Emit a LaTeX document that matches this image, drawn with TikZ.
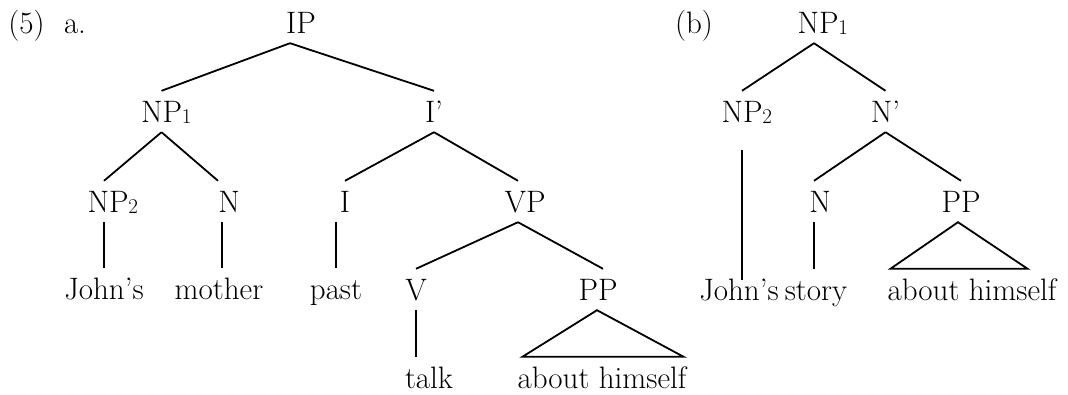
\documentclass[tikz,border=0pt]{standalone}
\usepackage{fontspec}
\usepackage{tikz}

% small subscript that does not count for centring
\newcommand{\catsub}[1]{\rlap{\raisebox{-1.5pt}{\fontsize{21}{25}\selectfont #1}}}

\tikzset{
  cat/.style={anchor=base, text height=21pt, text depth=0pt, inner ysep=10pt, inner xsep=0pt,
    font=\fontsize{31}{37}\selectfont},
  branch/.style={line width=1.8pt}
}

\begin{document}
\begin{tikzpicture}[x=1pt, y=-1pt]
    \useasboundingbox (0,0) rectangle (1068,394);

    % Example numbers
    \node[cat] (num) at (26.5,33) {(5)};
    \node[cat] (parta) at (75,33) {a.};
    \node[cat] (partb) at (694,33) {(b)};

    % Tree (a)
    \foreach \n/\x/\y/\t in {ip/301/33/IP, np1/161.5/122/NP\catsub{1}, ibar/434/122/I',
      np2/108/212/NP\catsub{2}, n/229/212/N, i/345/212/I, vp/525/212/VP,
      johns/104/299/John's, mother/219/299/mother, past/336/299/past, v/416/300/V, pp/598/300/PP,
      talk/429/388/talk, about/602/388/about himself} {
      \node[cat] (\n) at (\x,\y) {\t};
    }

    % Tree (b)
    \foreach \n/\x/\y/\t in {np1b/818/33/NP\catsub{1}, np2b/742/122/NP\catsub{2}, nbarb/885.5/122/N',
      nb/820/212/N, ppb/961/212/PP,
      johnsb/739/300/John's, story/816/300/story, aboutb/972/300/about himself} {
      \node[cat] (\n) at (\x,\y) {\t};
    }

    % Branches of tree (a)
    \draw[branch] ([xshift=-11pt]ip.south) -- (np1.north);
    \draw[branch] ([xshift=-11pt]ip.south) -- (ibar.north);
    \draw[branch] (np1.south) -- ([xshift=-4pt]np2.north);
    \draw[branch] (np1.south) -- ([xshift=-11pt]n.north);
    \draw[branch] (ibar.south) -- (i.north);
    \draw[branch] (ibar.south) -- ([xshift=-7pt]vp.north);
    \draw[branch] ([xshift=-7pt]vp.south) -- (v.north);
    \draw[branch] ([xshift=-7pt]vp.south) -- ([xshift=5pt]pp.north);
    \draw[branch] (johns.north |- np2.south) -- (johns.north);
    \draw[branch] ([xshift=-7pt]n.south) -- ([xshift=-7pt]n.south |- mother.north);
    \draw[branch] (past.north |- i.south) -- (past.north);
    \draw[branch] (v.south) -- (v.south |- talk.north);
    \draw[branch] ([xshift=-1pt]pp.south) -- ([xshift=5pt]about.north west) -- ([xshift=-3pt]about.north east) -- cycle;

    % Branches of tree (b)
    \draw[branch] ([xshift=-4pt]np1b.south) -- (np2b.north);
    \draw[branch] ([xshift=-4pt]np1b.south) -- (nbarb.north);
    \draw[branch] ([yshift=-18pt]np2b.south) -- ([yshift=-11pt]np2b.south |- johnsb.north);
    \draw[branch] (nbarb.south) -- ([xshift=-6pt]nb.north);
    \draw[branch] (nbarb.south) -- (ppb.north);
    \draw[branch] ([xshift=-6pt]nb.south) -- ([xshift=-6pt]nb.south |- story.north);
    \draw[branch] ([xshift=-3pt]ppb.south) -- ([xshift=3pt]aboutb.north west) -- ([xshift=-29pt]aboutb.north east) -- cycle;
\end{tikzpicture}
\end{document}
